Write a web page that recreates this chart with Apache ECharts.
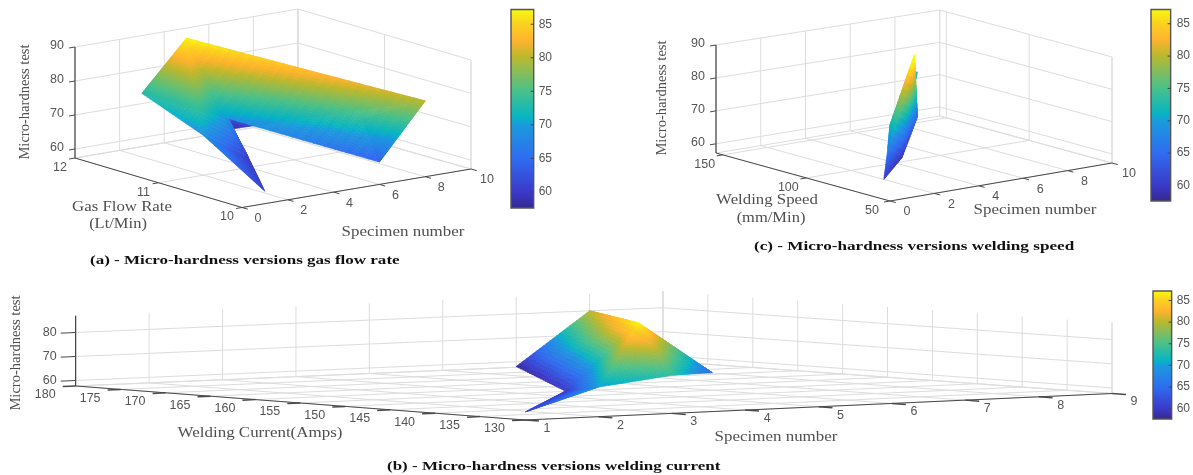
<!DOCTYPE html>
<html>
<head>
<meta charset="utf-8">
<style>html,body{margin:0;padding:0;background:#fff}#chart{width:1193px;height:475px;filter:blur(0.4px)}</style>
<script src="https://cdn.jsdelivr.net/npm/echarts@6/dist/echarts.min.js"></script>
</head>
<body>
<div id="chart"></div>
<script>
// ---- data ----
const specimenNumbers = [1, 2, 3, 4, 5, 6, 7, 8, 9];
const gasFlowRate = [10, 11, 12, 11, 12, 10, 12, 10, 11];
const hardnessGas = [61, 69, 73, 60, 87, 64, 58, 80, 66];
const weldingCurrent = [130, 130, 130, 150, 150, 150, 180, 180, 180];
const hardnessCurrent = [61, 70, 73.5, 60, 87, 65, 58, 80, 66];
const weldingSpeed = [67, 78, 90, 96, 102, 120, 127, 144, 154];
const hardnessSpeed = [60.2, 66.6, 71.3, 59.4, 89, 64, 64, 74, 72];
const meshQuads = [[0, 1, 4, 3], [1, 2, 5, 4], [3, 4, 7, 6], [4, 5, 8, 7]];

const specimenTicksWide = [0, 2, 4, 6, 8, 10];
const specimenTicksB = [1, 2, 3, 4, 5, 6, 7, 8, 9];
const gasTicks = [12, 11, 10];
const speedTicks = [150, 100, 50];
const currentTicks = [180, 175, 170, 165, 160, 155, 150, 145, 140, 135, 130];
const hardnessTicksAC = [60, 70, 80, 90];
const hardnessTicksB = [60, 70, 80];
const colorbarTicks = [60, 65, 70, 75, 80, 85];
const colorLimits = [57.6, 87.2];
const parulaStops = [
  [0, '#35288c'], [0.08, '#3b38c8'], [0.25, '#2f6cf0'], [0.42, '#1a9bdc'], [0.455, '#05b4c4'],
  [0.59, '#4ac18a'], [0.76, '#bcb82e'], [0.84, '#ffb32e'], [0.93, '#fad41f'], [1, '#f9fb0e']
];

// ---- view set-up of the three 3-D boxes (floor corners and box height) ----
const panels = [
  { yVals: gasFlowRate, zVals: hardnessGas, sTicks: specimenTicksWide, yTicks: gasTicks, zTicks: hardnessTicksAC,
    sLim: [0, 10], yLim: [12, 10], zLim: [57.35, 90], N: 22, tickWidth: 1,
    L: [75, 158, 111], B: [298, 120, 111], R: [471, 169, 109], F: [242, 207.5, 110.5],
    zOff: [-18, -1], yOff: [-15, 9.5], sOff: [16, 11], zTick: 6, yTick: 6, sTick: 6 },
  { yVals: weldingCurrent, zVals: hardnessCurrent, sTicks: specimenTicksB, yTicks: currentTicks, zTicks: hardnessTicksB,
    sLim: [1, 9], yLim: [180, 130], zLim: [57.7, 87], N: 22, tickWidth: 1.5,
    L: [75.7, 386, 70.3], B: [663, 361, 70], R: [1112, 393.5, 70.8], F: [525, 420, 70.3],
    zOff: [-26, 0], yOff: [-30.5, 9], sOff: [22, 8.5], zTick: 15, yTick: 13, sTick: 14 },
  { yVals: weldingSpeed, zVals: hardnessSpeed, sTicks: specimenTicksWide, yTicks: speedTicks, zTicks: hardnessTicksAC,
    sLim: [0, 10], yLim: [154, 50], zLim: [57.2, 90], N: 14, tickWidth: 1,
    L: [716, 153, 108], B: [939.7, 116, 106], R: [1112, 163, 106], F: [890, 201, 106.5],
    zOff: [-18, -1], yOff: [-18, 10], sOff: [17, 11], zTick: 6, yTick: 6, sTick: 6 }
];

function project(p, s, y, z) {
  const u = (s - p.sLim[0]) / (p.sLim[1] - p.sLim[0]);
  const t = (y - p.yLim[0]) / (p.yLim[1] - p.yLim[0]);
  const mix = k => (1 - u) * (1 - t) * p.L[k] + u * (1 - t) * p.B[k] + (1 - u) * t * p.F[k] + u * t * p.R[k];
  const h = (z - p.zLim[0]) / (p.zLim[1] - p.zLim[0]);
  return [mix(0), mix(1) - h * mix(2)];
}

function parula(z) {
  const f = Math.max(0, Math.min(1, (z - colorLimits[0]) / (colorLimits[1] - colorLimits[0])));
  let i = 0;
  while (i < parulaStops.length - 2 && f > parulaStops[i + 1][0]) i++;
  const a = parulaStops[i], b = parulaStops[i + 1];
  const w = (f - a[0]) / (b[0] - a[0]);
  const ch = (c, k) => parseInt(c.substr(1 + 2 * k, 2), 16);
  return 'rgb(' + [0, 1, 2].map(k => Math.round(ch(a[1], k) * (1 - w) + ch(b[1], k) * w)).join(',') + ')';
}

// Splits each mesh quad into shaded facets and orders them far-to-near for the box's view direction.
function buildFacets(p) {
  const v = specimenNumbers.map((s, i) => [s, p.yVals[i], p.zVals[i]]);
  const ex = [(p.R[0] + p.B[0] - p.L[0] - p.F[0]) / 2, (p.R[1] + p.B[1] - p.L[1] - p.F[1]) / 2];
  const ey = [(p.R[0] + p.F[0] - p.L[0] - p.B[0]) / 2, (p.R[1] + p.F[1] - p.L[1] - p.B[1]) / 2];
  const H = (p.L[2] + p.R[2]) / 2;
  const n = [-ey[0] * H, ex[0] * H, ex[0] * ey[1] - ey[0] * ex[1]];
  const depth = q => n[0] * (q[0] - p.sLim[0]) / (p.sLim[1] - p.sLim[0])
    + n[1] * (q[1] - p.yLim[0]) / (p.yLim[1] - p.yLim[0])
    + n[2] * (q[2] - p.zLim[0]) / (p.zLim[1] - p.zLim[0]);
  const out = [];
  const N = p.N;
  const pt = (a, b, c, i, j) => [0, 1, 2].map(k => a[k] + (b[k] - a[k]) * i / N + (c[k] - a[k]) * j / N);
  const addTri = (a, b, c) => {
    for (let i = 0; i < N; i++) for (let j = 0; j < N - i; j++) {
      const tris = [[pt(a, b, c, i, j), pt(a, b, c, i + 1, j), pt(a, b, c, i, j + 1)]];
      if (i + j < N - 1) tris.push([pt(a, b, c, i + 1, j), pt(a, b, c, i + 1, j + 1), pt(a, b, c, i, j + 1)]);
      tris.forEach(t => {
        const c0 = [0, 1, 2].map(k => (t[0][k] + t[1][k] + t[2][k]) / 3);
        out.push({ d: depth(c0), row: [...t[0], ...t[1], ...t[2], c0[2]] });
      });
    }
  };
  meshQuads.forEach(q => {
    addTri(v[q[0]], v[q[1]], v[q[3]]);
    addTri(v[q[1]], v[q[2]], v[q[3]]);
  });
  out.sort((a, b) => a.d - b.d);
  return out.map(o => o.row);
}

// Grid lines, axes, ticks and tick labels of a box.
function buildFrame(p) {
  const items = [];
  const GRID = '#dddddd', AXIS = '#4a4a4a';
  const [s0, s1] = p.sLim, [y0, y1] = p.yLim, [z0, z1] = p.zLim;
  const line = (a, b, color, oa, ob, width) => items.push({ kind: 'line', a, b, color, oa: oa || [0, 0], ob: ob || [0, 0], width: width || 1 });
  p.zTicks.forEach(z => {
    line([s0, y0, z], [s1, y0, z], GRID);
    line([s1, y0, z], [s1, y1, z], GRID);
  });
  p.sTicks.forEach(s => {
    line([s, y0, z0], [s, y0, z1], GRID);
    line([s, y0, z0], [s, y1, z0], GRID);
  });
  p.yTicks.forEach(y => {
    line([s1, y, z0], [s1, y, z1], GRID);
    line([s0, y, z0], [s1, y, z0], GRID);
  });
  [[[s0, y0, z0], [s1, y0, z0]], [[s1, y0, z0], [s1, y1, z0]], [[s1, y0, z0], [s1, y0, z1]], [[s1, y1, z0], [s1, y1, z1]]]
    .forEach(e => line(e[0], e[1], GRID));
  line([s0, y0, z0], [s0, y0, z1], '#222222');
  line([s0, y0, z0], [s0, y1, z0], AXIS);
  line([s0, y1, z0], [s1, y1, z0], AXIS);
  const norm = (x, y) => { const l = Math.hypot(x, y); return [x / l, y / l]; };
  const dirS = norm(p.R[0] - p.F[0], p.R[1] - p.F[1]);
  const dirY = norm(p.R[0] - p.B[0], p.R[1] - p.B[1]);
  const label = (a, off, text) => items.push({ kind: 'text', a, off, text });
  p.zTicks.forEach(z => {
    line([s0, y0, z], [s0, y0, z], AXIS, [0, 0], [-dirS[0] * p.zTick, -dirS[1] * p.zTick]);
    label([s0, y0, z], p.zOff, String(z));
  });
  p.yTicks.forEach(y => {
    line([s0, y, z0], [s0, y, z0], AXIS, [0, 0], [-dirS[0] * p.yTick, -dirS[1] * p.yTick], p.tickWidth);
    label([s0, y, z0], p.yOff, String(y));
  });
  p.sTicks.forEach(s => {
    line([s, y1, z0], [s, y1, z0], AXIS, [0, 0], [dirY[0] * p.sTick, dirY[1] * p.sTick], p.tickWidth);
    label([s, y1, z0], p.sOff, String(s));
  });
  return items;
}

const chart = echarts.init(document.getElementById('chart'), null, { renderer: 'canvas' });
const series = [];

panels.forEach(p => {
  const frame = buildFrame(p);
  series.push({
    type: 'custom', xAxisIndex: 0, yAxisIndex: 0, silent: true, clip: false, animation: false, z: 2,
    progressive: 0,
    data: frame.map((_, i) => [i]),
    renderItem: (params, api) => {
      const it = frame[api.value(0)];
      const at = (q, o) => { const c = api.coord(project(p, q[0], q[1], q[2])); return [c[0] + o[0], c[1] + o[1]]; };
      if (it.kind === 'line') {
        const a = at(it.a, it.oa), b = at(it.b, it.ob);
        return { type: 'line', shape: { x1: a[0], y1: a[1], x2: b[0], y2: b[1] }, style: { stroke: it.color, lineWidth: it.width } };
      }
      const c = at(it.a, it.off);
      return { type: 'text', x: c[0], y: c[1], style: { text: it.text, fill: '#555555', font: '12.5px "Liberation Sans"', align: 'center', verticalAlign: 'middle' } };
    }
  });
  const facets = buildFacets(p);
  series.push({
    type: 'custom', xAxisIndex: 0, yAxisIndex: 0, silent: true, clip: false, animation: false, z: 3,
    progressive: 0,
    data: facets,
    renderItem: (params, api) => {
      const pts = [0, 3, 6].map(k => api.coord(project(p, api.value(k), api.value(k + 1), api.value(k + 2))));
      const col = parula(api.value(9));
      return { type: 'polygon', shape: { points: pts }, style: { fill: col, stroke: col, lineWidth: 0.6 } };
    }
  });
});

const colorbars = [
  { left: 511, top: 9.5, width: 22.7, height: 198.5, margin: 5 },
  { left: 1153, top: 291, width: 23, height: 128, margin: 5 },
  { left: 1151, top: 9.5, width: 23, height: 191.5, margin: 6 }
];
const gradient = new echarts.graphic.LinearGradient(0, 1, 0, 0, parulaStops.map(s => ({ offset: s[0], color: s[1] })));
colorbars.forEach((c, i) => {
  series.push({
    type: 'custom', xAxisIndex: i + 1, yAxisIndex: i + 1, silent: true, animation: false, clip: false, z: 1,
    data: [[0, colorLimits[0], 1, colorLimits[1]]],
    renderItem: (params, api) => {
      const a = api.coord([api.value(0), api.value(1)]), b = api.coord([api.value(2), api.value(3)]);
      const children = [{ type: 'rect', shape: { x: a[0], y: b[1], width: b[0] - a[0], height: a[1] - b[1] }, style: { fill: gradient, stroke: '#555555', lineWidth: 1.4 } }];
      colorbarTicks.forEach(v => {
        const y = api.coord([1, v])[1];
        children.push({ type: 'line', shape: { x1: b[0] - 3, y1: y, x2: b[0], y2: y }, style: { stroke: '#444444', lineWidth: 1 } });
      });
      return { type: 'group', children };
    }
  });
});

const TITLE = '#505050';
const axisTitle = (text, x, y, scale, rotation) => ({
  type: 'text', x, y, rotation: rotation || 0, scaleX: scale, silent: true, z: 10,
  style: { text, fill: TITLE, font: '15px "Liberation Serif"', align: 'center', verticalAlign: 'middle' }
});
const caption = (text, x, y, scale) => ({
  type: 'text', x, y, scaleX: scale, silent: true, z: 10,
  style: { text, fill: '#111111', font: 'bold 13.5px "Liberation Serif"', align: 'left', verticalAlign: 'middle' }
});

chart.setOption({
  animation: false,
  backgroundColor: '#ffffff',
  grid: [{ left: 0, top: 0, width: 1193, height: 475 }].concat(colorbars.map(c => ({ left: c.left, top: c.top, width: c.width, height: c.height }))),
  xAxis: [{ type: 'value', min: 0, max: 1193, show: false, gridIndex: 0 }].concat(colorbars.map((c, i) => ({ type: 'value', min: 0, max: 1, show: false, gridIndex: i + 1 }))),
  yAxis: [{ type: 'value', min: 0, max: 475, inverse: true, show: false, gridIndex: 0 }].concat(colorbars.map((c, i) => ({
    type: 'value', gridIndex: i + 1, position: 'right', min: colorLimits[0], max: colorLimits[1],
    axisLine: { show: false }, splitLine: { show: false },
    axisTick: { show: false },
    axisLabel: { show: true, margin: c.margin, color: '#555555', fontSize: 12, fontFamily: 'Liberation Sans', customValues: colorbarTicks }
  }))),
  graphic: [
    axisTitle('Micro-hardness test', 25, 102, 0.97, Math.PI / 2),
    axisTitle('Gas Flow Rate', 122, 207, 1.12),
    axisTitle('(Lt/Min)', 118, 224, 1.1),
    axisTitle('Specimen number', 403, 232, 1.13),
    axisTitle('Micro-hardness test', 662, 98, 0.97, Math.PI / 2),
    axisTitle('Welding Speed', 767, 200, 1.12),
    axisTitle('(mm/Min)', 771, 218, 1.1),
    axisTitle('Specimen number', 1035, 210, 1.13),
    axisTitle('Micro-hardness test', 16, 353, 0.97, Math.PI / 2),
    axisTitle('Welding Current(Amps)', 260, 433, 1.13),
    axisTitle('Specimen number', 776, 437, 1.13),
    caption('(a) - Micro-hardness versions gas flow rate', 90, 261, 1.26),
    caption('(c) - Micro-hardness versions welding speed', 754, 247, 1.27),
    caption('(b) - Micro-hardness versions welding current', 387, 467, 1.26)
  ],
  series
});
</script>
</body>
</html>
